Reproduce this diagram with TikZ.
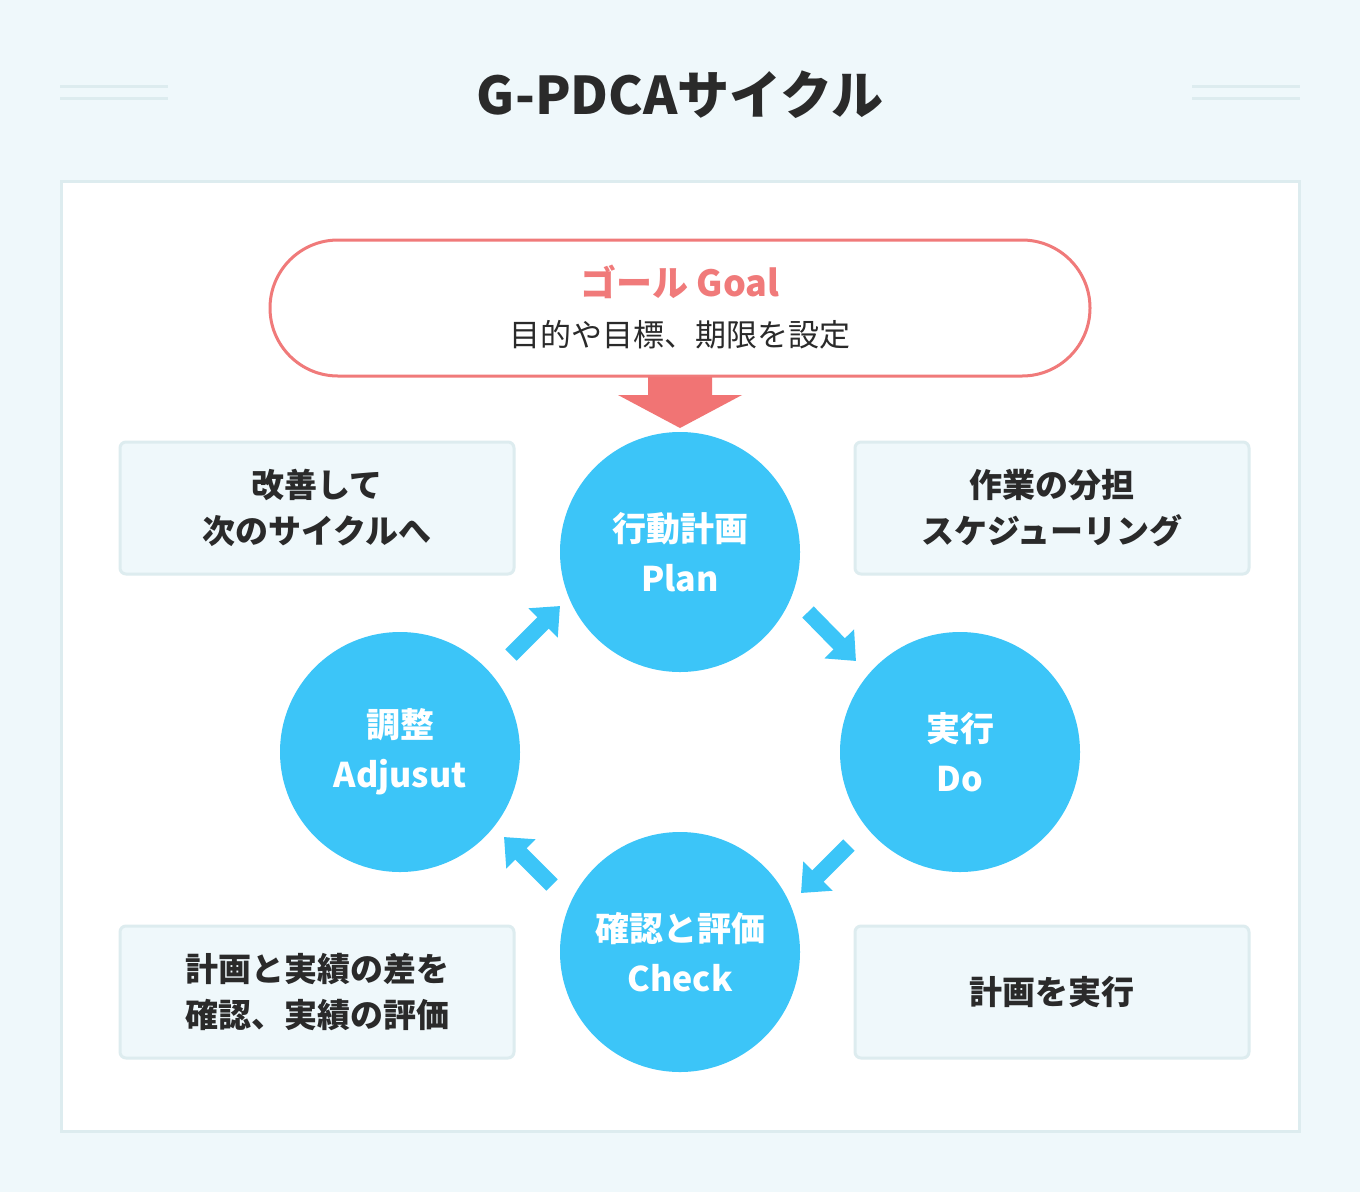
\documentclass[tikz,border=0pt]{standalone}
\usepackage{fontspec}
\setmainfont{Noto Sans CJK JP}
\usetikzlibrary{arrows.meta}
\definecolor{bg}{HTML}{EFF8FB}
\definecolor{bd}{HTML}{DDECEF}
\definecolor{pink}{HTML}{F07A7A}
\definecolor{blue}{HTML}{3CC5F8}
\definecolor{dark}{HTML}{2A2A2A}
\begin{document}
\begin{tikzpicture}[x=1pt,y=-1pt,
  circ/.style={circle,fill=blue,minimum size=240pt,inner sep=0pt,text=white,font=\fontsize{34}{50}\selectfont\bfseries,align=center},
  box/.style={draw=bd,line width=3pt,fill=bg,rounded corners=6pt,minimum width=394pt,minimum height=132pt,text=dark,font=\fontsize{33}{46}\selectfont\bfseries,align=center},
  blk/.style={blue,line width=16pt,-{Triangle[width=40pt,length=24pt]}},
  dline/.style={bd,line width=3pt}]
\fill[bg] (0,0) rectangle (1360,1192);
\useasboundingbox (0,0) rectangle (1360,1192);
\draw[fill=white,draw=bd,line width=3pt] (61,181) rectangle (1299,1131);
\node[text=dark,font=\fontsize{52}{60}\selectfont\bfseries] (title) at (680,95) {G-PDCAサイクル};
\draw[dline] (60,86)--(168,86) (60,98)--(168,98) (1192,86)--(1300,86) (1192,98)--(1300,98);
\node[draw=pink,line width=3pt,rounded corners=68pt,minimum width=820pt,minimum height=136pt,fill=white,align=center] (goal) at (680,308) {};
\node[text=pink,font=\fontsize{36}{40}\selectfont\bfseries] (gt) at (680,282) {ゴール Goal};
\node[text=dark,font=\fontsize{31}{36}\selectfont] (gs) at (680,335) {目的や目標、期限を設定};
\fill[pink!95!red] (648,377) -- (712,377) -- (712,395) -- (742,395) -- (680,428) -- (618,395) -- (648,395) -- cycle;
\node[circ] (plan) at (680,552) {行動計画\\Plan};
\node[circ] (do) at (960,752) {実行\\Do};
\node[circ] (check) at (680,952) {確認と評価\\Check};
\node[circ] (adj) at (400,752) {調整\\Adjusut};
\node[box] (b1) at (317,508) {改善して\\次のサイクルへ};
\node[box] (b2) at (1052,508) {作業の分担\\スケジューリング};
\node[box] (b3) at (317,992) {計画と実績の差を\\確認、実績の評価};
\node[box] (b4) at (1052,992) {計画を実行};
\coordinate (a1s) at (808,612); \coordinate (a1e) at (856,661);
\coordinate (a2s) at (849,845); \coordinate (a2e) at (801,893);
\coordinate (a3s) at (552,885); \coordinate (a3e) at (504,837);
\coordinate (a4s) at (511,655); \coordinate (a4e) at (560,606);
\draw[blk] (a1s)--(a1e);
\draw[blk] (a2s)--(a2e);
\draw[blk] (a3s)--(a3e);
\draw[blk] (a4s)--(a4e);
\end{tikzpicture}
\end{document}
